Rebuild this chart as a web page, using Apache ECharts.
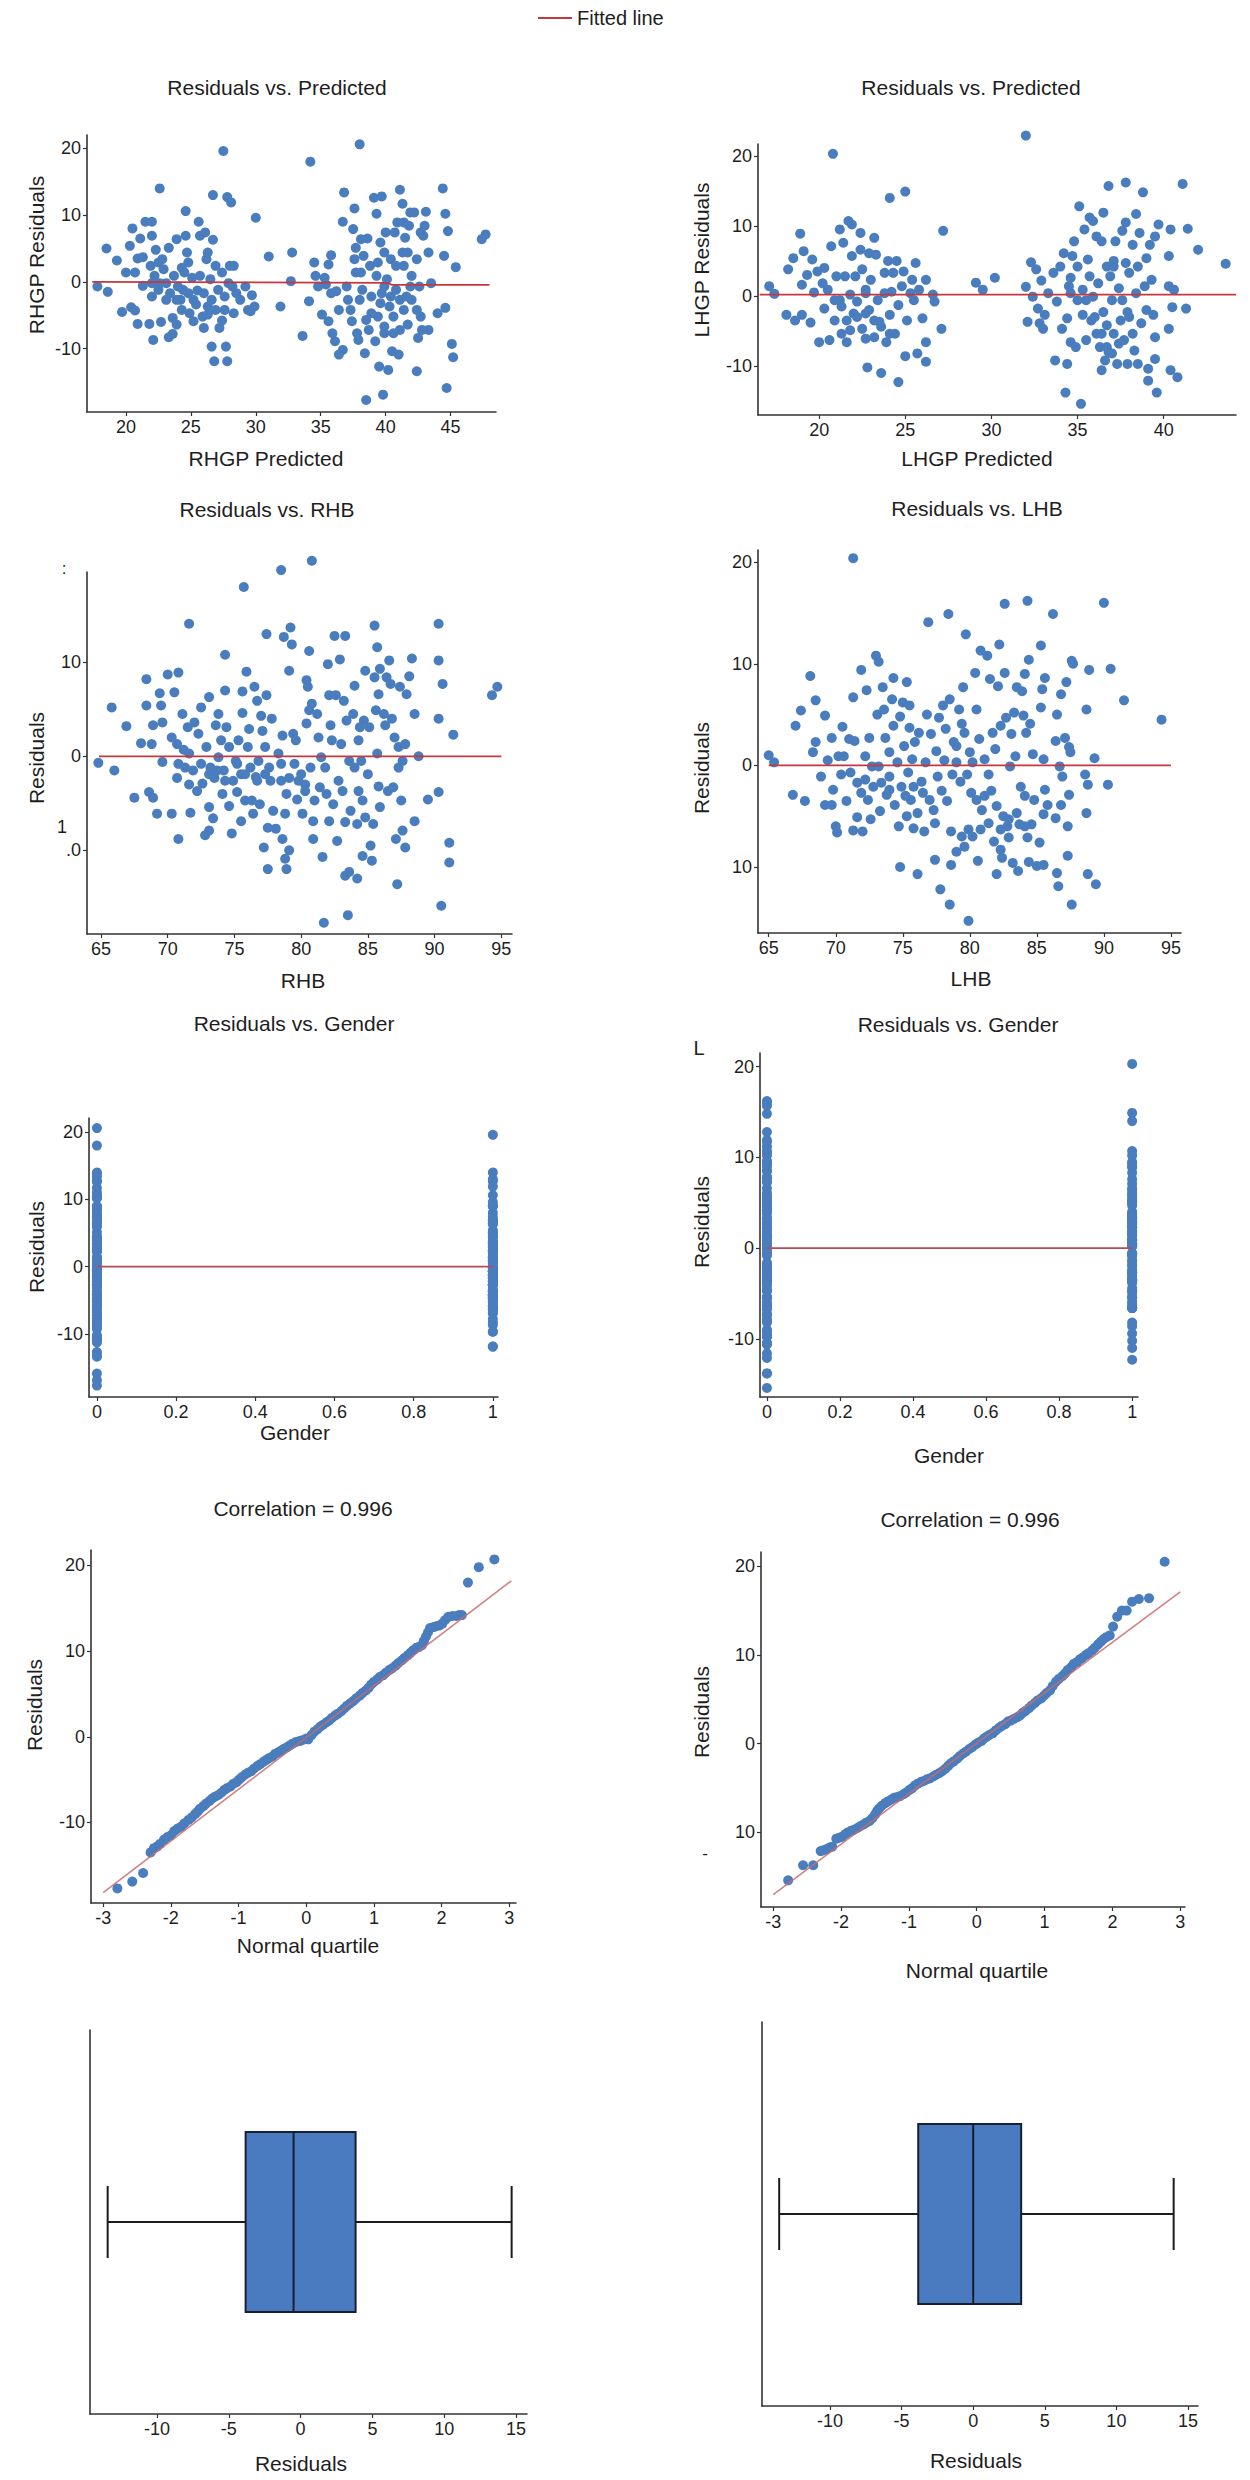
<!DOCTYPE html>
<html><head><meta charset="utf-8">
<script src="https://cdn.jsdelivr.net/npm/echarts@6/dist/echarts.min.js"></script>
<style>html,body{margin:0;padding:0;background:#fff}#c{width:1250px;height:2480px}</style>
</head><body><div id="c"></div>
<script>
// ---------------- DATA ----------------
// Right hand grip power (RHGP): [predicted, residual]
const rhgpResidVsPred = [[18.5,5],[17.8,-0.7],[18.6,-1.5],[19.3,3.2],[19.7,-4.5],[20.0,1.4],[20.5,8],[20.7,1.4],[20.4,-3.8],[20.7,-4.3],[20.9,-6.3],[20.3,5.4],[20.9,3.5],[21.1,6.5],[21.3,3.7],[21.3,-0.6],[21.5,9],[22.0,9],[21.8,-6.3],[22.0,6.9],[22.1,-8.7],[22.3,4.8],[22.6,14],[22.7,-6],[21.9,2.4],[22.0,-2.2],[22.2,0.9],[22.5,2.9],[22.8,3.4],[22.9,1.9],[23.1,-0.2],[23.3,5.1],[23.3,-8.3],[23.6,-7.8],[23.6,-5.4],[23.9,6.4],[23.9,-6.4],[24.0,-0.7],[24.2,-2.7],[24.3,2.1],[24.4,-1.2],[24.6,10.6],[24.6,6.9],[24.7,4.4],[24.8,-1.7],[24.9,-4.7],[25.1,0.6],[25.2,-5.9],[25.4,-3.4],[25.5,-1.3],[25.6,9],[25.7,6.9],[25.9,-5.2],[26.0,-6.9],[26.1,7.4],[26.2,3.4],[26.3,-3.7],[26.3,4.4],[26.5,0.4],[26.6,-2.7],[26.7,13],[26.7,6.3],[26.8,-11.9],[26.6,-9.7],[26.9,2.4],[27.1,-1.2],[27.2,-6.9],[27.4,-5.8],[27.5,19.6],[27.6,-2.2],[27.7,-9.7],[27.8,12.7],[27.8,-11.9],[27.6,-4.2],[27.9,-0.2],[28.0,2.4],[28.1,11.9],[28.2,-0.7],[28.3,2.4],[28.3,-4.7],[28.5,-1.7],[28.8,-2.7],[29.2,-0.7],[29.4,-4.2],[29.6,-4.4],[29.7,-2],[30.0,9.6],[29.9,-3.7],[31.0,3.8],[31.9,-3.7],[32.7,0.1],[32.8,4.4],[33.6,-8.1],[34.2,18],[34.1,-2.9],[34.5,2.9],[34.6,0.9],[34.8,-0.7],[35.1,-4.9],[35.3,0.6],[35.4,-0.4],[35.6,2.6],[35.6,-5.9],[35.8,4],[35.8,-1.7],[35.9,-7.7],[36.1,-8.9],[36.2,-1.4],[36.4,-4.2],[36.4,-10.9],[36.7,9],[36.7,-10.2],[36.8,13.4],[37.0,-0.7],[37.1,-2.7],[37.3,-4.2],[37.4,-5.9],[37.5,7.9],[37.6,11],[37.6,3.4],[37.7,5.1],[37.8,-7.7],[37.9,-8.7],[38.0,20.6],[38.0,-2.7],[38.1,1.4],[38.2,-1.2],[38.3,3.9],[38.4,-10.7],[38.5,-5.7],[38.5,-17.7],[38.6,6.5],[38.7,-7.2],[38.8,2.4],[38.9,-2.2],[39.1,12.6],[39.2,-8.9],[39.3,10.2],[39.3,0.9],[39.4,-5.2],[39.5,-12.7],[39.6,5.9],[39.7,12.8],[39.7,-1.7],[39.8,-16.9],[39.9,4.4],[39.9,-6.7],[40.0,7.4],[40.1,0.4],[40.2,-13.2],[40.3,-3.7],[40.4,3.4],[40.5,-10.4],[40.6,-5.2],[40.7,7.4],[40.8,-1.2],[40.9,8.9],[41.0,-10.9],[41.1,-7.2],[41.1,13.8],[41.3,4.4],[41.3,11.7],[41.4,-4.2],[41.4,8.9],[41.5,6.6],[41.6,-2.2],[41.7,-6.4],[41.7,4.4],[41.8,8.4],[41.9,10.4],[42.0,0.9],[42.0,-2.7],[42.2,10.4],[42.4,-13.4],[42.4,-4.2],[42.5,-8.4],[42.6,-0.7],[42.7,7.4],[42.7,-5.2],[42.8,-7.2],[42.9,6.9],[43.0,8.4],[43.1,10.5],[43.3,4.4],[43.3,-7.2],[43.5,-0.2],[44.0,-4.7],[44.4,14],[44.6,10.2],[44.5,3.9],[44.6,-3.9],[44.7,-15.9],[44.8,7.6],[45.1,-9.3],[45.2,-11.3],[45.4,2.2],[47.4,6.4],[47.7,7.1],[22.6,-0.2],[23.4,-1.7],[23.7,0.9],[24.5,1.4],[24.8,2.9],[25.2,-2.7],[24.3,-4.2],[25.7,0.9],[26.0,-1.7],[26.3,-4.9],[26.9,-4.2],[27.4,1.4],[23.9,-2.7],[23.1,-2.7],[22.5,-1.2],[22.0,-0.2],[39.4,2.9],[39.9,-0.7],[40.4,-2.2],[40.8,2.4],[41.1,-2.7],[39.6,-3.2],[38.9,-4.7],[41.4,2.4],[41.9,-0.7],[42.4,3.4],[39.9,-7.7],[40.6,-7.7],[38.1,6.4],[37.7,1.4]];

// Left hand grip power (LHGP): [predicted, residual]
const lhgpResidVsPred = [[17.1,1.4],[17.4,0.3],[18.1,-2.7],[18.2,3.8],[18.5,5.4],[18.6,-3.5],[18.9,8.9],[19.0,1.6],[19.1,6.4],[19.0,-2.7],[19.3,3],[19.5,-3.8],[19.6,5.2],[19.7,0.5],[19.9,3.5],[20.2,1.8],[20.3,-1.8],[20.3,4],[20.0,-6.6],[20.5,0.9],[20.6,-6.3],[20.7,7.1],[20.8,20.3],[20.9,-3.5],[21.0,2.8],[21.2,9.5],[21.2,-0.6],[21.3,-5.4],[21.4,7.6],[21.5,2.8],[21.6,-3.5],[21.6,-6.6],[21.7,10.7],[21.8,0.2],[21.9,10.2],[21.9,5.7],[22.0,-2.5],[22.1,2.8],[22.2,-0.8],[22.4,6.6],[22.4,9],[22.5,-4.7],[22.5,3.8],[22.7,0.9],[22.7,-6.1],[22.8,-10.2],[22.9,6.1],[22.9,-2],[23.0,2.3],[23.2,8.3],[23.2,-5.9],[23.3,5.9],[23.4,-0.6],[23.5,-3.7],[23.6,-11],[23.8,0.4],[23.8,3.3],[23.9,-6.6],[24.0,5],[24.1,-2.7],[24.1,14],[24.2,0.6],[24.3,3.3],[24.4,-5.4],[24.5,5],[24.6,-12.3],[24.6,-1.3],[24.8,1.4],[24.9,3.5],[25.0,14.9],[25.0,-8.6],[25.1,-3.5],[25.3,0.4],[25.4,2.3],[25.5,-0.6],[25.6,4.7],[25.7,-8.2],[25.8,0.9],[26.0,-3.2],[26.2,-9.4],[26.2,-6.6],[26.2,2.3],[26.6,0.2],[26.7,-0.8],[27.1,-4.7],[27.2,9.3],[29.1,1.9],[29.5,0.9],[30.2,2.6],[32.0,22.9],[32.0,1.3],[32.1,-3.7],[32.3,4.8],[32.4,-0.1],[32.6,3.8],[32.7,-1.8],[32.8,-3.9],[32.9,2.2],[33.0,-4.7],[33.1,-2.7],[33.3,0.4],[33.6,3.3],[33.7,-9.2],[33.8,-0.8],[34.0,4.2],[34.1,-4.7],[34.2,6.1],[34.3,-13.8],[34.4,-3.2],[34.4,-9.7],[34.5,1.4],[34.6,2.6],[34.6,-6.6],[34.7,5.7],[34.8,7.8],[34.9,-7.3],[35.0,-0.6],[35.0,4.2],[35.1,12.8],[35.2,-15.4],[35.3,0.9],[35.3,-2.7],[35.4,9.5],[35.5,-6.3],[35.6,5.2],[35.7,2.8],[35.7,11.2],[35.8,-3.5],[35.9,10.7],[35.9,-0.1],[36.1,-5.4],[36.1,8.5],[36.2,1.8],[36.3,-7.3],[36.4,-10.6],[36.4,7.8],[36.5,11.9],[36.5,-2.3],[36.6,-9.2],[36.7,4.2],[36.7,-4.2],[36.8,15.7],[36.8,-8],[36.9,2.8],[37.0,-0.6],[37.1,5],[37.1,-5.4],[37.2,7.8],[37.3,-9.7],[37.4,1.1],[37.5,-3.5],[37.6,9.3],[37.7,-6.3],[37.8,16.2],[37.8,4.7],[37.9,-9.7],[37.8,10.5],[37.9,-2.3],[38.0,3.3],[38.2,-5.4],[38.2,7.3],[38.3,-7.8],[38.4,0.4],[38.4,11.7],[38.5,-9.7],[38.6,9],[38.7,-3.9],[38.8,14.8],[38.9,1.4],[39.0,-2],[39.0,5.4],[39.1,-10.4],[39.1,-12.1],[39.2,7.3],[39.3,2.3],[39.4,-2.7],[39.5,8.5],[39.5,-5.9],[39.5,-9],[39.6,-13.8],[39.7,10.2],[40.3,1.4],[40.3,5.7],[40.3,-4.7],[40.4,-10.6],[40.4,9.5],[40.5,-1.6],[40.6,0.9],[40.8,-11.6],[41.1,16],[41.3,-1.8],[41.4,9.6],[42.0,6.6],[43.6,4.6],[36.0,-3],[36.4,-5.4],[36.7,-7.3],[37.4,-6.8],[37.0,-8.2],[37.6,-0.6],[38.0,-3],[37.1,4.2],[38.5,4.2],[35.5,-0.6],[34.6,0.4],[22.2,-3],[22.7,-2.5],[23.2,-3.5],[21.3,-1.5],[20.9,-0.6],[23.6,-4.4],[21.8,-4.9],[24.1,-5.4],[22.7,0.4]];

// Residuals vs right hand breadth (RHB): [RHB, residual]
const residVsRHB = [[64.8,-0.7],[65.8,5.2],[66.0,-1.5],[66.9,3.2],[67.5,-4.4],[68.0,1.4],[68.4,8.2],[68.4,5.4],[68.6,-3.8],[68.8,1.3],[68.9,-4.4],[68.9,3.3],[69.2,-6.1],[69.4,6.7],[69.5,5.4],[69.6,3.6],[69.6,-0.6],[70.0,8.7],[70.3,-6.1],[70.3,2],[70.5,6.8],[70.7,1.3],[70.8,8.9],[70.8,-0.8],[70.8,-8.8],[70.7,-2.3],[71.1,4.5],[71.2,0.7],[71.3,-1.2],[71.5,3.1],[71.6,14.1],[71.7,-6],[71.6,-3],[71.9,-1.5],[72.0,3.6],[72.2,-3.7],[72.3,2.4],[72.5,-0.8],[72.5,5.2],[72.8,-8.4],[72.6,-2.9],[72.9,1],[73.1,6.3],[73.1,-5.4],[73.1,-7.9],[73.2,-1.2],[73.4,-6.6],[73.5,-2.3],[73.6,3.3],[73.8,4.5],[73.8,-0.1],[74.0,1.7],[74.1,-4],[74.2,-1.5],[74.3,7],[74.3,10.8],[74.4,3.1],[74.6,1],[74.6,-5.3],[74.8,-8.2],[74.9,-2.6],[75.1,-0.5],[75.2,-3.8],[75.3,1.7],[75.5,-1.9],[75.5,-6.9],[75.6,4.6],[75.6,6.9],[75.7,18],[75.8,-4.7],[75.9,9],[76.0,1],[76.1,2.9],[76.2,-1.2],[76.3,-4.7],[76.4,-6.1],[76.5,7.4],[76.6,-2.2],[76.7,5.9],[76.8,-0.5],[76.9,-5.1],[77.0,4.3],[77.1,2.7],[77.2,-9.7],[77.3,1],[77.4,13],[77.4,6.5],[77.5,-12],[77.5,-7.6],[77.6,-1.2],[77.7,-2.6],[77.8,4],[77.9,-5.8],[78.1,-7.7],[78.3,0.3],[78.5,-2.6],[78.5,19.8],[78.6,2.2],[78.6,-8.8],[78.7,12.7],[78.8,-10.9],[78.8,-6.1],[78.9,-12],[78.9,-4],[79.1,-10],[79.1,9.1],[79.2,13.7],[79.3,11.9],[79.4,2.4],[79.5,-0.8],[79.6,1.7],[79.7,-4.6],[79.8,-2.6],[80.0,-1.9],[80.1,-6.1],[80.3,-3],[80.4,3.5],[80.4,8.1],[80.5,7.4],[80.6,11.2],[80.6,4.9],[80.7,-1.2],[80.8,20.8],[80.8,5.6],[80.9,-8.8],[80.9,-6.9],[81.0,-4.7],[81.2,4.5],[81.3,2],[81.4,-3.3],[81.5,-0.1],[81.6,-10.7],[81.7,-17.7],[81.8,-1.2],[81.9,-4],[82.0,9.8],[82.1,6.5],[82.1,-6.9],[82.2,3.3],[82.3,1.7],[82.4,-5.1],[82.5,12.8],[82.6,6.5],[82.7,-9],[82.8,-2.6],[82.9,10.3],[83.0,1.3],[83.1,-3.7],[83.2,5.9],[83.3,-12.7],[83.3,-7],[83.3,12.8],[83.4,3.8],[83.5,-16.9],[83.6,-0.5],[83.6,-12.3],[83.7,-5.8],[83.9,4.5],[84.0,7.5],[84.0,-1.2],[84.2,-13],[84.2,-7.2],[84.3,1.7],[84.3,-3.7],[84.4,3.1],[84.5,-0.5],[84.6,-10.6],[84.6,-4.7],[84.7,3.8],[84.8,9.1],[84.8,-6.5],[85.0,-1.9],[85.1,3.1],[85.2,-9.5],[85.3,-11.1],[85.4,-7.2],[85.5,8.4],[85.5,13.9],[85.6,4.9],[85.7,11.6],[85.7,0.3],[85.8,6.6],[85.8,-3.2],[85.9,9.3],[85.9,-5.4],[86.2,4.5],[86.3,3.3],[86.4,8.4],[86.5,-3.7],[86.6,10.2],[86.7,7.7],[86.8,4],[86.9,-3.3],[87.0,2],[87.1,-8.8],[87.2,-13.6],[87.3,1],[87.3,-1.2],[87.4,7.4],[87.5,-4.7],[87.6,-7.9],[87.6,-0.5],[87.8,1.3],[87.8,-9.7],[87.9,6.6],[88.1,8.5],[88.3,10.4],[88.5,-6.9],[88.5,4.5],[88.8,0],[89.5,-4.6],[90.3,14.1],[90.3,10.2],[90.3,4],[90.3,-3.8],[90.5,-15.9],[90.6,7.7],[91.1,-9.2],[91.1,-11.3],[91.4,2.3],[94.3,6.5],[94.7,7.4],[75.2,-0.8],[75.8,-1.9],[76.7,-2.6],[77.3,-1.9],[74.3,-2.6],[73.7,-1.5],[73.1,-1.9],[71.6,0.3],[78.5,-0.8],[79.1,-2.3],[80.3,-3.7]];

// Residuals vs left hand breadth (LHB): [LHB, residual]
const residVsLHB = [[65.0,1],[65.4,0.3],[66.8,-2.9],[67.0,3.9],[67.4,5.4],[67.7,-3.5],[68.1,8.8],[68.3,1.3],[68.5,6.4],[68.5,2.3],[68.9,-1.1],[69.2,4.9],[69.2,-3.9],[69.4,0.5],[69.7,2.7],[69.7,-3.9],[69.8,-2.4],[70.0,-6],[70.1,-6.6],[70.2,0.9],[70.4,-0.9],[70.5,3.8],[70.6,0.9],[70.8,-3.5],[71.0,2.6],[71.1,-0.7],[71.3,6.7],[71.3,20.4],[71.3,-6.4],[71.4,2.4],[71.6,-1.7],[71.6,-5.1],[71.9,9.4],[71.9,-2.7],[72.0,-6.5],[72.2,0.9],[72.3,7.4],[72.4,-3.4],[72.5,2.7],[72.6,-5.3],[72.7,-0.1],[72.8,-2.1],[73.0,10.8],[73.1,5],[73.2,10.2],[73.2,-0.1],[73.3,-4.5],[73.4,-1.7],[73.5,7.7],[73.6,5.5],[73.7,2.7],[73.8,-2.9],[74.0,1.3],[74.0,-1.1],[74.2,6.5],[74.3,8.6],[74.3,3.9],[74.4,-3.9],[74.6,0.3],[74.7,-6],[74.8,-10],[74.8,4.8],[74.9,-2.1],[75.0,6.2],[75.1,1.9],[75.3,8.2],[75.3,-5],[75.4,-0.7],[75.5,3.7],[75.5,5.9],[75.6,-3.4],[75.7,0.6],[75.8,-6.2],[75.9,2.3],[76.1,-10.7],[76.1,-4.7],[76.2,3.2],[76.4,-1.6],[76.5,-2.7],[76.6,-6.5],[76.7,0.3],[76.8,5],[76.9,14.1],[77.0,-3.4],[77.1,3.1],[77.3,-4.4],[77.4,-9.3],[77.4,-5.7],[77.5,1.4],[77.6,-1.1],[77.7,4.7],[77.8,-12.2],[77.9,-2.5],[78.0,5.9],[78.1,0.5],[78.2,3.6],[78.3,-3.5],[78.4,14.9],[78.5,6.5],[78.5,-13.7],[78.6,-6.5],[78.6,-9.8],[78.7,-0.9],[78.8,2.3],[79.0,-8.5],[79.0,1.9],[79.2,5.5],[79.3,-1.6],[79.4,4.1],[79.4,-7],[79.5,7.7],[79.6,3.2],[79.6,-8],[79.7,12.9],[79.8,-0.9],[79.9,-15.3],[79.9,-6.3],[80.0,1.3],[80.1,-2.7],[80.2,-7],[80.4,9.1],[80.5,-3.4],[80.5,5.5],[80.6,-9.4],[80.7,2.6],[80.8,-6.3],[80.8,11.3],[80.9,-4.4],[81.1,0.6],[81.3,10.8],[81.4,-0.9],[81.4,-5.7],[81.5,8.5],[81.6,-2.5],[81.7,3.2],[81.8,-7.5],[81.9,1.6],[82.0,-10.7],[82.0,-4],[82.1,7.8],[82.2,11.9],[82.3,3.9],[82.3,-8.3],[82.4,-9.1],[82.5,-5],[82.6,15.9],[82.6,9.1],[82.7,4.7],[82.8,-6],[82.9,-7.1],[83.0,-0.1],[83.1,3.1],[83.2,-9.6],[83.3,5.2],[83.4,0.9],[83.5,-4.7],[83.5,7.7],[83.6,-10.4],[83.7,-5.8],[83.8,-2.1],[83.9,7.3],[84.0,4.9],[84.1,-3],[84.1,9],[84.2,3.2],[84.3,-7.1],[84.3,16.2],[84.4,-9.5],[84.4,10.4],[84.5,4.1],[84.6,-5.8],[84.7,1.1],[84.8,-3.4],[85.0,-9.9],[85.2,-7.6],[85.3,5.7],[85.3,11.8],[85.4,7.5],[85.5,0.6],[85.5,-4.8],[85.5,-9.8],[85.6,8.6],[85.6,-2.4],[85.8,-3.9],[86.2,14.9],[86.4,2.4],[86.4,-5.2],[86.5,-10.6],[86.5,5],[86.6,-11.9],[86.7,-0.1],[86.8,7],[86.8,-3.9],[86.9,-1.1],[87.1,2.7],[87.2,8.2],[87.3,-6],[87.3,-8.9],[87.4,-2.9],[87.4,1.8],[87.5,1.3],[87.6,-13.7],[87.6,10.3],[87.7,10],[88.7,5.5],[88.6,-0.9],[88.7,-4.7],[88.8,-1.9],[88.9,9.4],[88.8,-10.7],[89.3,0.7],[89.4,-11.7],[90.0,16],[90.3,-1.9],[90.5,9.5],[91.5,6.4],[94.3,4.5],[75.2,-3],[75.8,-2.1],[74.0,-2.4],[72.2,-1.4],[82.9,-5.3],[82.3,-6.3],[84.1,-6],[80.2,0.3],[79.0,0.3],[81.1,-3]];

// Normal probability plots: [normal quantile, ordered residual]
const qqRight = [[-2.79,-17.7],[-2.57,-16.9],[-2.41,-15.9],[-2.30,-13.5],[-2.25,-13.0],[-2.20,-12.8],[-2.16,-12.5],[-2.10,-12.0],[-2.05,-11.7],[-2.00,-11.5],[-1.95,-11.0],[-1.90,-10.7],[-1.85,-10.5],[-1.80,-10.1],[-1.74,-9.7],[-1.69,-9.4],[-1.64,-9.0],[-1.60,-8.7],[-1.57,-8.4],[-1.52,-8.1],[-1.48,-7.8],[-1.43,-7.5],[-1.39,-7.2],[-1.35,-7.0],[-1.30,-6.8],[-1.25,-6.5],[-1.21,-6.2],[-1.17,-6.0],[-1.12,-5.8],[-1.08,-5.5],[-1.03,-5.3],[-0.99,-5.0],[-0.95,-4.7],[-0.90,-4.4],[-0.86,-4.2],[-0.81,-4.0],[-0.77,-3.7],[-0.72,-3.4],[-0.68,-3.2],[-0.63,-2.9],[-0.59,-2.7],[-0.55,-2.5],[-0.50,-2.3],[-0.46,-2.0],[-0.41,-1.8],[-0.37,-1.6],[-0.33,-1.4],[-0.28,-1.2],[-0.24,-1.0],[-0.20,-0.8],[-0.15,-0.6],[-0.10,-0.5],[-0.06,-0.4],[0.0,-0.2],[0.03,-0.3],[0.08,0.2],[0.12,0.6],[0.17,0.9],[0.21,1.2],[0.25,1.4],[0.30,1.7],[0.34,1.9],[0.38,2.2],[0.43,2.5],[0.47,2.7],[0.52,3.0],[0.56,3.3],[0.60,3.6],[0.65,3.9],[0.70,4.2],[0.74,4.5],[0.79,4.8],[0.83,5.1],[0.88,5.4],[0.92,5.7],[0.96,6.1],[1.00,6.4],[1.05,6.7],[1.09,7.0],[1.14,7.2],[1.18,7.5],[1.23,7.8],[1.27,8.0],[1.32,8.3],[1.36,8.6],[1.41,8.9],[1.45,9.2],[1.50,9.5],[1.54,9.8],[1.58,10.1],[1.63,10.4],[1.67,10.5],[1.71,10.7],[1.74,11.2],[1.77,11.7],[1.80,12.2],[1.83,12.7],[1.88,12.8],[1.92,12.9],[1.97,13.0],[2.01,13.2],[2.05,13.6],[2.10,14.0],[2.16,14.1],[2.22,14.1],[2.26,14.2],[2.30,14.2],[2.39,18.0],[2.55,19.8],[2.78,20.7]];
const qqLeft = [[-2.78,-15.4],[-2.56,-13.7],[-2.41,-13.7],[-2.30,-12.1],[-2.26,-12.0],[-2.22,-11.9],[-2.17,-11.7],[-2.13,-11.6],[-2.07,-10.7],[-2.03,-10.6],[-1.99,-10.5],[-1.94,-10.2],[-1.90,-10.0],[-1.85,-9.8],[-1.81,-9.7],[-1.76,-9.5],[-1.72,-9.3],[-1.67,-9.1],[-1.63,-8.9],[-1.58,-8.7],[-1.54,-8.4],[-1.50,-8.0],[-1.47,-7.6],[-1.44,-7.3],[-1.40,-7.0],[-1.35,-6.7],[-1.31,-6.5],[-1.26,-6.3],[-1.22,-6.1],[-1.17,-6.0],[-1.13,-5.9],[-1.08,-5.7],[-1.04,-5.5],[-0.99,-5.2],[-0.95,-5.0],[-0.91,-4.7],[-0.87,-4.5],[-0.82,-4.3],[-0.78,-4.2],[-0.73,-4.0],[-0.69,-3.9],[-0.64,-3.7],[-0.60,-3.5],[-0.55,-3.3],[-0.51,-3.1],[-0.46,-2.8],[-0.42,-2.5],[-0.38,-2.2],[-0.34,-2.0],[-0.29,-1.7],[-0.25,-1.4],[-0.20,-1.1],[-0.16,-0.9],[-0.11,-0.6],[-0.07,-0.4],[-0.02,-0.1],[0.02,0.1],[0.07,0.3],[0.11,0.6],[0.15,0.8],[0.19,1.0],[0.24,1.2],[0.28,1.5],[0.33,1.8],[0.37,2.0],[0.42,2.2],[0.46,2.5],[0.50,2.6],[0.55,2.8],[0.60,3.0],[0.64,3.2],[0.68,3.5],[0.72,3.7],[0.77,4.0],[0.81,4.3],[0.86,4.6],[0.90,4.9],[0.95,5.1],[0.99,5.4],[1.03,5.7],[1.08,6.0],[1.12,6.5],[1.17,7.0],[1.21,7.3],[1.26,7.6],[1.30,7.9],[1.34,8.3],[1.39,8.6],[1.43,9.0],[1.48,9.2],[1.52,9.5],[1.56,9.7],[1.61,10.0],[1.65,10.2],[1.70,10.5],[1.74,10.8],[1.79,11.2],[1.83,11.5],[1.87,11.8],[1.91,12.0],[1.96,12.2],[2.01,13.2],[2.07,14.3],[2.14,15.0],[2.21,15.0],[2.29,16.0],[2.39,16.3],[2.54,16.4],[2.77,20.5]];

// Fitted (reference) lines: [x, y]
const fitRHGP = [[17.4,0],[40.1,-0.15],[40.5,-0.45],[48.0,-0.45]];
const fitLHGP = [[16.55,0.2],[44.2,0.2]];
const fitRHB = [[64.85,0],[95.0,0]];
const fitLHB = [[65.0,0],[95.0,0]];
const fitGender = [[0,0],[1,0]];
const fitQQRight = [[-3.0,-18.2],[3.03,18.2]];
const fitQQLeft = [[-3.0,-17.0],[3.0,17.1]];

// Box plots of residuals: [lower whisker, Q1, median, Q3, upper whisker]
const boxRight = [-13.44, -3.83, -0.49, 3.83, 14.7];
const boxLeft = [-13.55, -3.84, 0.0, 3.35, 14.0];

// Gender groups: the low-predicted cluster is gender 1 (cut between the two clusters)
const genderCutRight = 32;
const genderCutLeft = 31;

// Tick labels
const ticksPredRight = [20, 25, 30, 35, 40, 45];
const ticksPredLeft = [20, 25, 30, 35, 40];
const ticksHB = [65, 70, 75, 80, 85, 90, 95];
const ticksGender = [0, 0.2, 0.4, 0.6, 0.8, 1];
const ticksQuantile = [-3, -2, -1, 0, 1, 2, 3];
const ticksResid = [-10, 0, 10, 20];
const ticksBox = [-10, -5, 0, 5, 10, 15];

// ---------------- CHART ----------------
const FONT = "'Liberation Sans', Arial, sans-serif";
const TXT = '#1e1e1e';
const AXC = '#333333';
const DOT = '#4a7dbd';
const RED = '#c4383e';

const genderRight = rhgpResidVsPred.map(p => [p[0] < genderCutRight ? 1 : 0, p[1]]);
const genderLeft = lhgpResidVsPred.map(p => [p[0] < genderCutLeft ? 1 : 0, p[1]]);

const panels = [
  {grid:{left:87,top:135,width:409,height:277}, x:[17,48.5], y:[-19.5,22], xt:ticksPredRight, yt:ticksResid, pts:rhgpResidVsPred, fit:fitRHGP, clip:false},
  {grid:{left:758,top:144,width:478,height:271}, x:[16.45,44.2], y:[-17,21.7], xt:ticksPredLeft, yt:ticksResid, pts:lhgpResidVsPred, fit:fitLHGP, clip:false},
  {grid:{left:87,top:572,width:425,height:362}, x:[63.95,95.8], y:[-18.9,19.6], xt:ticksHB, yt:ticksResid, pts:residVsRHB, fit:fitRHB, clip:false, yfmt:v => v === -10 ? '.0' : String(v)},
  {grid:{left:758,top:550,width:423,height:383}, x:[64.2,95.75], y:[-16.5,21.2], xt:ticksHB, yt:ticksResid, pts:residVsLHB, fit:fitLHB, clip:false, yfmt:v => String(Math.abs(v))},
  {grid:{left:89,top:1118,width:409,height:279}, x:[-0.02,1.013], y:[-19.4,22.1], xt:ticksGender, yt:ticksResid, pts:genderRight, fit:fitGender, clip:true, thin:true},
  {grid:{left:760,top:1053,width:378,height:344}, x:[-0.019,1.016], y:[-16.4,21.5], xt:ticksGender, yt:ticksResid, pts:genderLeft, fit:fitGender, clip:true, thin:true},
  {grid:{left:91,top:1550,width:425,height:353}, x:[-3.18,3.1], y:[-19.4,21.8], xt:ticksQuantile, yt:ticksResid, pts:qqRight, fit:fitQQRight, clip:false, qq:true},
  {grid:{left:761,top:1552,width:424,height:355}, x:[-3.18,3.07], y:[-18.4,21.6], xt:ticksQuantile, yt:ticksResid, pts:qqLeft, fit:fitQQLeft, clip:false, qq:true, yfmt:v => String(Math.abs(v))},
  {grid:{left:90,top:2030,width:437,height:384}, x:[-14.67,15.77], box:boxRight, xt:ticksBox},
  {grid:{left:762,top:2022,width:436,height:384}, x:[-14.75,15.7], box:boxLeft, xt:ticksBox}
];

const grid = [], xAxis = [], yAxis = [], series = [];
const labelStyle = {fontSize:18, color:TXT, fontFamily:FONT};
panels.forEach((p, i) => {
  grid.push(Object.assign({containLabel:false}, p.grid));
  xAxis.push({
    type:'value', gridIndex:i, min:p.x[0], max:p.x[1],
    axisLine:{show:true, onZero:false, lineStyle:{color:AXC, width:1.6}},
    axisTick:{show:true, customValues:p.xt, length:4, lineStyle:{color:AXC, width:1.2}},
    axisLabel:Object.assign({show:true, customValues:p.xt, margin:6}, labelStyle),
    splitLine:{show:false}
  });
  if (p.box) {
    yAxis.push({type:'value', gridIndex:i, min:0, max:1,
      axisLine:{show:true, onZero:false, lineStyle:{color:AXC, width:1.6}},
      axisTick:{show:false}, axisLabel:{show:false}, splitLine:{show:false}});
    series.push({
      type:'custom', xAxisIndex:i, yAxisIndex:i, data:[p.box], silent:true,
      renderItem:(params, api) => {
        const yc = 0.5;
        const a = api.coord([api.value(0), yc]);
        const b = api.coord([api.value(1), yc]);
        const m = api.coord([api.value(2), yc]);
        const c = api.coord([api.value(3), yc]);
        const d = api.coord([api.value(4), yc]);
        const cy = a[1], bh = 90, ch = 36;
        const ls = {stroke:'#1b1b1b', lineWidth:2};
        return {type:'group', children:[
          {type:'line', shape:{x1:a[0], y1:cy, x2:b[0], y2:cy}, style:ls},
          {type:'line', shape:{x1:c[0], y1:cy, x2:d[0], y2:cy}, style:ls},
          {type:'line', shape:{x1:a[0], y1:cy-ch, x2:a[0], y2:cy+ch}, style:ls},
          {type:'line', shape:{x1:d[0], y1:cy-ch, x2:d[0], y2:cy+ch}, style:ls},
          {type:'rect', shape:{x:b[0], y:cy-bh, width:c[0]-b[0], height:2*bh}, style:{fill:'#4a7bc0', stroke:'#16202e', lineWidth:2}},
          {type:'line', shape:{x1:m[0], y1:cy-bh, x2:m[0], y2:cy+bh}, style:{stroke:'#16202e', lineWidth:2}}
        ]};
      }
    });
  } else {
    yAxis.push({
      type:'value', gridIndex:i, min:p.y[0], max:p.y[1],
      axisLine:{show:true, onZero:false, lineStyle:{color:AXC, width:1.6}},
      axisTick:{show:true, customValues:p.yt, length:4, lineStyle:{color:AXC, width:1.2}},
      axisLabel:Object.assign({show:true, customValues:p.yt, margin:6, formatter:p.yfmt || (v => String(v))}, labelStyle),
      splitLine:{show:false}
    });
    series.push({type:'scatter', name:'Residuals '+i, xAxisIndex:i, yAxisIndex:i, data:p.pts,
      symbolSize:10, clip:p.clip, silent:true, itemStyle:{color:DOT, opacity:1}});
    series.push({type:'line', name:'Fitted line', xAxisIndex:i, yAxisIndex:i, data:p.fit,
      symbol:'none', silent:true, z:3,
      itemStyle:{color:RED},
      lineStyle:p.qq ? {color:'#cc6a6c', width:1.6, opacity:0.85} : {color:p.thin ? '#b8485a' : RED, width:1.8}});
  }
});

const texts = [
  ['Residuals vs. Predicted', 277, 87], ['Residuals vs. Predicted', 971, 87],
  ['Residuals vs. RHB', 267, 509], ['Residuals vs. LHB', 977, 508],
  ['Residuals vs. Gender', 294, 1023], ['Residuals vs. Gender', 958, 1024],
  ['Correlation = 0.996', 303, 1508], ['Correlation = 0.996', 970, 1519],
  ['RHGP Predicted', 266, 458], ['LHGP Predicted', 977, 458],
  ['RHB', 303, 980], ['LHB', 971, 978],
  ['Gender', 295, 1432], ['Gender', 949, 1455],
  ['Normal quartile', 308, 1945], ['Normal quartile', 977, 1970],
  ['Residuals', 301, 2463], ['Residuals', 976, 2460]
];
const vtexts = [
  ['RHGP Residuals', 36, 255], ['LHGP Residuals', 701, 260],
  ['Residuals', 36, 758], ['Residuals', 701, 768],
  ['Residuals', 36, 1247], ['Residuals', 701, 1222],
  ['Residuals', 34, 1705], ['Residuals', 701, 1712]
];
const stray = [['L', 699, 1048, 20], ['1', 62, 827, 18], [':', 64, 568, 17], ['-', 705, 1853, 17]];
const mkText = (t, x, y, size, rot) => ({type:'text', x, y, rotation:rot || 0, silent:true,
  style:{text:t, font:size + 'px ' + FONT, fill:TXT, align:'center', verticalAlign:'middle', textAlign:'center', textVerticalAlign:'middle'}});
const graphic = [];
texts.forEach(t => graphic.push(mkText(t[0], t[1], t[2], 21)));
vtexts.forEach(t => graphic.push(mkText(t[0], t[1], t[2], 21, Math.PI / 2)));
stray.forEach(t => graphic.push(mkText(t[0], t[1], t[2], t[3])));

const chart = echarts.init(document.getElementById('c'), null, {renderer:'svg', width:1250, height:2480});
chart.setOption({
  backgroundColor:'#ffffff',
  animation:false,
  legend:{data:['Fitted line'], left:538, top:8, padding:0, icon:'rect', itemWidth:34, itemHeight:2,
    selectedMode:false, textStyle:{fontSize:20, color:TXT, fontFamily:FONT}},
  grid, xAxis, yAxis, series, graphic
});
</script></body></html>
